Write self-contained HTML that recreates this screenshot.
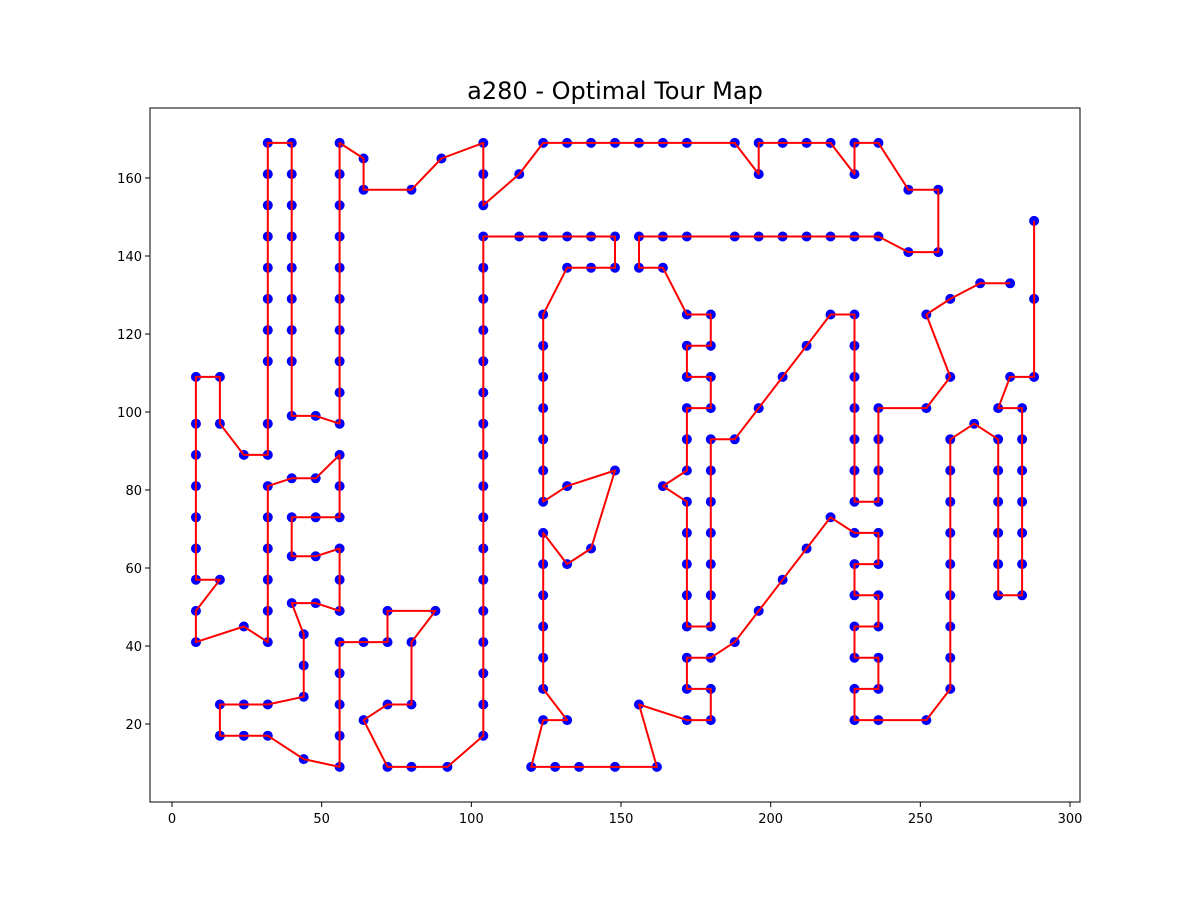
<!DOCTYPE html>
<html><head><meta charset="utf-8"><style>
body{margin:0;background:#fff;width:1200px;height:900px;overflow:hidden}
svg text{font-family:"DejaVu Sans","Liberation Sans",sans-serif}
</style></head><body>
<svg id="chart" width="1200" height="900" xmlns="http://www.w3.org/2000/svg">
<text x="615" y="99" font-size="24" text-anchor="middle">a280 - Optimal Tour Map</text>
<g id="axes"></g>
</svg>
<script>
const tourX = [288,288,288,280,276,284,284,284,284,284,284,284,276,276,276,276,276,276,268,260,260,260,260,260,260,260,260,260,252,236,228,228,236,236,228,228,236,236,228,228,236,236,228,220,212,204,196,188,180,172,172,180,180,172,156,162,148,136,128,120,124,132,124,124,124,124,124,124,132,140,148,132,124,124,124,124,124,124,124,132,140,148,148,140,132,124,116,104,104,104,104,104,104,104,104,104,104,104,104,104,104,104,104,104,92,80,72,64,72,80,80,88,72,72,64,56,56,56,56,56,44,32,24,16,16,24,32,44,44,44,40,48,56,56,56,48,40,40,48,56,56,56,48,40,32,32,32,32,32,32,24,8,8,16,8,8,8,8,8,8,8,16,16,24,32,32,32,32,32,32,32,32,32,32,40,40,40,40,40,40,40,40,40,48,56,56,56,56,56,56,56,56,56,56,64,64,80,90,104,104,104,116,124,132,140,148,156,164,172,188,196,196,204,212,220,228,228,236,246,256,256,246,236,228,220,212,204,196,188,172,164,156,156,164,172,180,180,172,172,180,180,172,172,172,164,172,172,172,172,172,180,180,180,180,180,180,180,188,196,204,212,220,228,228,228,228,228,228,228,236,236,236,236,252,260,252,260,270,280];
const tourY = [149,129,109,109,101,101,93,85,77,69,61,53,53,61,69,77,85,93,97,93,85,77,69,61,53,45,37,29,21,21,21,29,29,37,37,45,45,53,53,61,61,69,69,73,65,57,49,41,37,37,29,29,21,21,25,9,9,9,9,9,21,21,29,37,45,53,61,69,61,65,85,81,77,85,93,101,109,117,125,137,137,137,145,145,145,145,145,145,137,129,121,113,105,97,89,81,73,65,57,49,41,33,25,17,9,9,9,21,25,25,41,49,49,41,41,41,33,25,17,9,11,17,17,17,25,25,25,27,35,43,51,51,49,57,65,63,63,73,73,73,81,89,83,83,81,73,65,57,49,41,45,41,49,57,57,65,73,81,89,97,109,109,97,89,89,97,113,121,129,137,145,153,161,169,169,161,153,145,137,129,121,113,99,99,97,105,113,121,129,137,145,153,161,169,165,157,157,165,169,161,153,161,169,169,169,169,169,169,169,169,161,169,169,169,169,161,169,169,157,157,141,141,145,145,145,145,145,145,145,145,145,145,137,137,125,125,117,117,109,109,101,101,93,85,81,77,69,61,53,45,45,53,61,69,77,85,93,93,101,109,117,125,125,117,109,101,93,85,77,77,85,93,101,101,109,125,129,133,133];
const xTicks = [0,50,100,150,200,250,300];
const yTicks = [20,40,60,80,100,120,140,160];
const NS="http://www.w3.org/2000/svg";
const L=150,R=1080,T=108,B=802;
const sx=v=>172+v*(898/300);
const sy=v=>802-v*3.9;
const g=document.getElementById('axes');
function mk(tag,attrs){const e=document.createElementNS(NS,tag);for(const k in attrs)e.setAttribute(k,attrs[k]);return e;}
for(let i=0;i<tourX.length;i++){
  const c=mk('circle',{cx:sx(tourX[i]),cy:sy(tourY[i]),r:5,fill:'#0000ff'});
  
  
  g.appendChild(c);
}
let d='';
for(let i=0;i<tourX.length;i++){d+=(i?'L':'M')+sx(tourX[i]).toFixed(1)+' '+sy(tourY[i]).toFixed(1);}
const p=mk('path',{d:d,fill:'none',stroke:'#ff0000','stroke-width':2,'stroke-linejoin':'round'});


g.appendChild(p);
const fr=mk('rect',{x:L,y:T,width:R-L,height:B-T,fill:'none',stroke:'#000','stroke-width':1});


g.appendChild(fr);
xTicks.forEach(v=>{
  const x=sx(v);
  const t=mk('line',{x1:x,x2:x,y1:B,y2:B+5,stroke:'#000'});
  
  
  g.appendChild(t);
  const tx=mk('text',{x:x,y:B+21,'font-size':13,'text-anchor':'middle'});
  tx.textContent=v;
  
  
  g.appendChild(tx);
});
yTicks.forEach(v=>{
  const y=sy(v);
  const t=mk('line',{x1:L-5,x2:L,y1:y,y2:y,stroke:'#000'});
  
  
  g.appendChild(t);
  const tx=mk('text',{x:L-8,y:y+5,'font-size':13,'text-anchor':'end'});
  tx.textContent=v;
  
  
  g.appendChild(tx);
});
</script>
</body></html>
